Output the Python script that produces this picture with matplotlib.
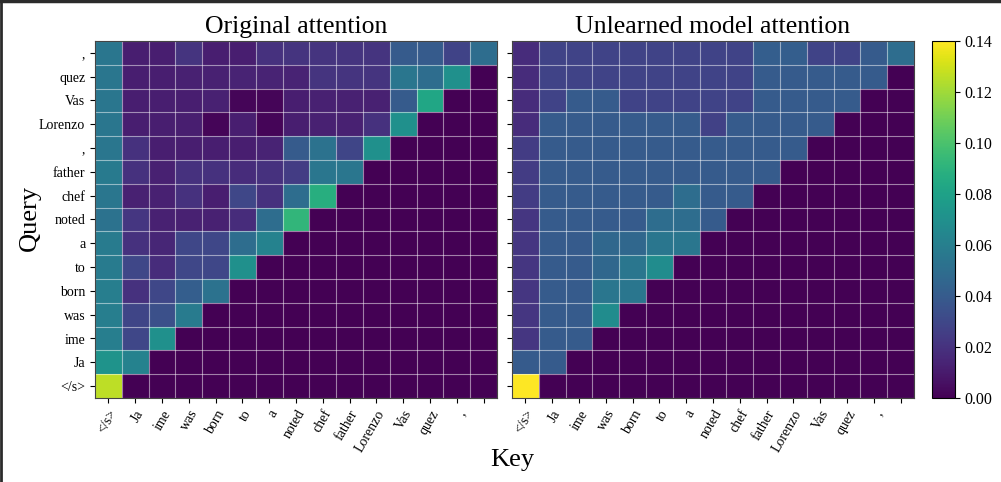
import numpy as np
import matplotlib.pyplot as plt
from matplotlib.lines import Line2D

plt.rcParams['font.family'] = ['Liberation Serif', 'DejaVu Serif']

# query tokens, bottom to top
tokens = ["</s>", "Ja", "ime", "was", "born", "to", "a", "noted", "chef",
          "father", ",", "Lorenzo", "Vas", "quez", ","]
# key labels as they appear on the x axis (one short, last tick unlabeled)
key_labels = ["</s>", "Ja", "ime", "was", "born", "to", "a", "noted", "chef",
              "father", "Lorenzo", "Vas", "quez", ",", ""]

# attention rows (query i attends to keys 0..i)
orig_rows = [
    [0.126],
    [0.072, 0.062],
    [0.060, 0.030, 0.070],
    [0.060, 0.029, 0.034, 0.058],
    [0.060, 0.020, 0.030, 0.042, 0.053],
    [0.058, 0.030, 0.018, 0.030, 0.030, 0.070],
    [0.058, 0.020, 0.015, 0.030, 0.030, 0.050, 0.062],
    [0.053, 0.022, 0.013, 0.013, 0.013, 0.018, 0.050, 0.092],
    [0.055, 0.013, 0.013, 0.020, 0.012, 0.030, 0.020, 0.050, 0.088],
    [0.057, 0.020, 0.013, 0.020, 0.020, 0.018, 0.020, 0.025, 0.055, 0.055],
    [0.055, 0.020, 0.012, 0.012, 0.012, 0.012, 0.014, 0.040, 0.053, 0.029, 0.070],
    [0.055, 0.012, 0.012, 0.012, 0.002, 0.012, 0.002, 0.012, 0.013, 0.013, 0.020, 0.070],
    [0.055, 0.012, 0.012, 0.012, 0.013, 0.002, 0.002, 0.012, 0.013, 0.013, 0.013, 0.040, 0.083],
    [0.055, 0.012, 0.012, 0.013, 0.013, 0.014, 0.014, 0.014, 0.021, 0.021, 0.021, 0.055, 0.050, 0.070],
    [0.055, 0.012, 0.012, 0.021, 0.012, 0.012, 0.020, 0.021, 0.021, 0.021, 0.021, 0.040, 0.040, 0.028, 0.050],
]

unlearn_rows = [
    [0.145],
    [0.040, 0.040],
    [0.022, 0.040, 0.040],
    [0.022, 0.040, 0.040, 0.068],
    [0.022, 0.040, 0.040, 0.055, 0.055],
    [0.022, 0.040, 0.040, 0.047, 0.055, 0.068],
    [0.022, 0.040, 0.040, 0.047, 0.047, 0.055, 0.055],
    [0.022, 0.040, 0.040, 0.040, 0.040, 0.050, 0.050, 0.040],
    [0.025, 0.040, 0.040, 0.040, 0.040, 0.040, 0.050, 0.040, 0.040],
    [0.025, 0.040, 0.040, 0.040, 0.040, 0.040, 0.040, 0.040, 0.040, 0.040],
    [0.025, 0.040, 0.040, 0.040, 0.040, 0.040, 0.040, 0.040, 0.040, 0.040, 0.040],
    [0.018, 0.040, 0.040, 0.040, 0.040, 0.040, 0.040, 0.027, 0.040, 0.040, 0.040, 0.040],
    [0.018, 0.028, 0.040, 0.040, 0.028, 0.028, 0.028, 0.028, 0.028, 0.040, 0.040, 0.040, 0.040],
    [0.018, 0.028, 0.028, 0.028, 0.028, 0.028, 0.028, 0.028, 0.028, 0.040, 0.040, 0.040, 0.040, 0.040],
    [0.018, 0.028, 0.028, 0.028, 0.028, 0.028, 0.028, 0.028, 0.028, 0.042, 0.042, 0.028, 0.028, 0.040, 0.050],
]


def to_matrix(rows):
    n = len(rows)
    m = np.zeros((n, n))
    for i, r in enumerate(rows):
        m[i, :len(r)] = r
    return m


fig = plt.figure(figsize=(10.01, 4.82), dpi=100)
ax1 = fig.add_axes([95 / 1001, 1 - 398 / 482, 402 / 1001, 357 / 482])
ax2 = fig.add_axes([512 / 1001, 1 - 398 / 482, 402 / 1001, 357 / 482])
cax = fig.add_axes([932 / 1001, 1 - 398 / 482, 23 / 1001, 357 / 482])

n = len(tokens)
for ax, rows, title in [(ax1, orig_rows, "Original attention"),
                        (ax2, unlearn_rows, "Unlearned model attention")]:
    im = ax.imshow(to_matrix(rows), origin='lower', aspect='auto',
                   cmap='viridis', vmin=0, vmax=0.14)
    ax.set_xticks(np.arange(n))
    ax.set_xticklabels(key_labels, rotation=60, ha='right',
                       rotation_mode='anchor', fontsize=10)
    ax.set_yticks(np.arange(n))
    ax.set_xticks(np.arange(-0.5, n, 1), minor=True)
    ax.set_yticks(np.arange(-0.5, n, 1), minor=True)
    ax.grid(which='minor', color='white', alpha=0.5, linewidth=0.8)
    ax.tick_params(which='minor', length=0)
    ax.set_title(title, fontsize=18.5, pad=6)
    for s in ax.spines.values():
        s.set_color('#444444')

ax1.set_yticklabels(tokens, fontsize=10)
ax2.set_yticklabels([])

cb = fig.colorbar(im, cax=cax, ticks=np.arange(0, 0.141, 0.02))
cb.ax.set_yticklabels(["%.2f" % t for t in np.arange(0, 0.141, 0.02)], fontsize=11.5)

fig.text(30 / 1001, 1 - 218 / 482, "Query", rotation=90, fontsize=19,
         ha='center', va='center')
fig.text(512 / 1001, 1 - 460 / 482, "Key", fontsize=19, ha='center', va='center')

# screenshot frame at top and left
fig.add_artist(Line2D([0, 1], [0.997, 0.997], transform=fig.transFigure,
                      color='#2b2b2b', lw=2.5))
fig.add_artist(Line2D([0.001, 0.001], [0, 1], transform=fig.transFigure,
                      color='#2b2b2b', lw=2))

fig.savefig('out.png', dpi=100)
